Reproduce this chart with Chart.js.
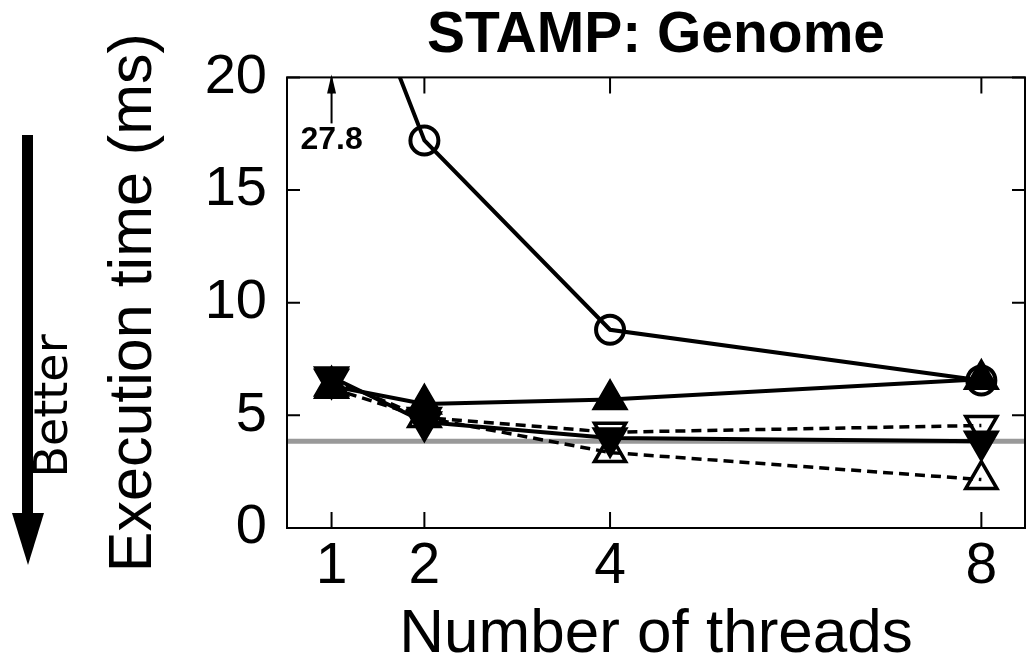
<!DOCTYPE html>
<html>
<head>
<meta charset="utf-8">
<script src="https://cdn.jsdelivr.net/npm/chart.js@4.4.1/dist/chart.umd.min.js"></script>
<style>
  html, body { margin: 0; padding: 0; background: #fff; }
</style>
</head>
<body>
<canvas id="genomeChart" width="1029" height="663"></canvas>
<script>
// values
const threads = [1, 2, 4, 8];
const xTicks = [1, 2, 4, 8];
const yTicks = [0, 5, 10, 15, 20];
const seqCircle = [27.8, 17.2, 8.8, 6.55];   // solid line, open circles
const solidUp = [6.3, 5.5, 5.7, 6.6];        // solid line, filled up-triangles
const solidDown = [6.7, 4.7, 4.0, 3.85];     // solid line, filled down-triangles
const dashedDown = [6.6, 4.9, 4.25, 4.55];   // dashed line, open down-triangles
const dashedUp = [6.2, 4.9, 3.35, 2.15];     // dashed line, open up-triangles
const baselineMs = 3.85;                     // grey reference line
const clippedValue = '27.8';

Chart.defaults.font.family = "'Liberation Sans', Arial, sans-serif";
Chart.defaults.color = '#000';

const toPoints = arr => threads.map((t, i) => ({ x: t, y: arr[i] }));

function series(arr, opts) {
    return Object.assign({
        data: toPoints(arr),
        borderColor: '#000',
        borderWidth: 4,
        tension: 0,
        pointBorderColor: '#000',
        pointBorderWidth: 3.5,
        pointRadius: 18,
        pointBackgroundColor: 'rgba(0,0,0,0)'
    }, opts);
}

// frame, inward ticks and grey baseline
const framePlugin = {
    id: 'frame',
    beforeDatasetsDraw(chart) {
        const { ctx, chartArea: a, scales: { x, y } } = chart;
        ctx.save();
        const yb = y.getPixelForValue(baselineMs);
        ctx.strokeStyle = '#999';
        ctx.lineWidth = 5;
        ctx.beginPath();
        ctx.moveTo(a.left, yb);
        ctx.lineTo(a.right, yb);
        ctx.stroke();

        ctx.strokeStyle = '#000';
        ctx.lineWidth = 2;
        ctx.strokeRect(a.left, a.top, a.right - a.left, a.bottom - a.top);
        ctx.beginPath();
        yTicks.forEach(v => {
            const p = y.getPixelForValue(v);
            ctx.moveTo(a.left, p); ctx.lineTo(a.left + 13, p);
            ctx.moveTo(a.right, p); ctx.lineTo(a.right - 13, p);
        });
        xTicks.forEach(v => {
            const p = x.getPixelForValue(v);
            ctx.moveTo(p, a.bottom); ctx.lineTo(p, a.bottom - 16);
            ctx.moveTo(p, a.top); ctx.lineTo(p, a.top + 16);
        });
        ctx.stroke();
        ctx.restore();
    },
    afterDraw(chart) {
        const { ctx, chartArea: a, scales: { x } } = chart;
        ctx.save();
        // arrow + label for the off-scale point
        const xp = x.getPixelForValue(threads[0]);
        ctx.strokeStyle = '#000';
        ctx.fillStyle = '#000';
        ctx.lineWidth = 2;
        ctx.beginPath();
        ctx.moveTo(xp, a.top + 46);
        ctx.lineTo(xp, a.top + 14);
        ctx.stroke();
        ctx.beginPath();
        ctx.moveTo(xp, a.top - 3);
        ctx.lineTo(xp - 4.5, a.top + 16);
        ctx.lineTo(xp + 4.5, a.top + 16);
        ctx.closePath();
        ctx.fill();
        ctx.font = "bold 32px 'Liberation Sans', Arial, sans-serif";
        ctx.textAlign = 'center';
        ctx.textBaseline = 'middle';
        ctx.fillText(clippedValue, xp, a.top + 63);

        // "Better" arrow on the far left
        ctx.fillRect(22, 135, 11, 380);
        ctx.beginPath();
        ctx.moveTo(12, 513);
        ctx.lineTo(44, 513);
        ctx.lineTo(28, 565);
        ctx.closePath();
        ctx.fill();
        ctx.translate(67, 406);
        ctx.rotate(-Math.PI / 2);
        ctx.font = "46px 'DejaVu Sans', sans-serif";
        ctx.textAlign = 'center';
        ctx.textBaseline = 'alphabetic';
        ctx.fillText('Better', 0, 0);
        ctx.restore();
    }
};

const ctx = document.getElementById('genomeChart');

new Chart(ctx, {
    type: 'line',
    data: {
        datasets: [
            series(solidUp, { pointStyle: 'triangle', pointBackgroundColor: '#000' }),
            series(solidDown, { pointStyle: 'triangle', pointRotation: 180, pointBackgroundColor: '#000' }),
            series(dashedDown, { pointStyle: 'triangle', pointRotation: 180, borderWidth: 3.5, borderDash: [10, 6] }),
            series(dashedUp, { pointStyle: 'triangle', borderWidth: 3.5, borderDash: [10, 6] }),
            series(seqCircle, { pointStyle: 'circle', pointRadius: 14, pointBorderWidth: 4 })
        ]
    },
    options: {
        responsive: false,
        animation: false,
        devicePixelRatio: 1,
        layout: { autoPadding: false, padding: { left: 80, right: 4, top: 0, bottom: 0 } },
        plugins: {
            legend: { display: false },
            tooltip: { enabled: false },
            title: {
                display: true,
                fullSize: false,
                text: 'STAMP: Genome',
                color: '#000',
                font: { size: 57, weight: 'bold' },
                padding: { top: 2, bottom: 7 }
            }
        },
        scales: {
            x: {
                type: 'linear',
                min: 0.52,
                max: 8.47,
                afterBuildTicks: s => { s.ticks = xTicks.map(v => ({ value: v })); },
                afterFit: s => { s.height = 135; },
                grid: { display: false, drawTicks: false },
                border: { display: false },
                ticks: { font: { size: 57 }, padding: 5, maxRotation: 0, autoSkip: false },
                title: {
                    display: true,
                    text: 'Number of threads',
                    font: { size: 62, lineHeight: 0.9 },
                    padding: { top: 0, bottom: 0 }
                }
            },
            y: {
                min: 0,
                max: 20,
                afterBuildTicks: s => { s.ticks = yTicks.map(v => ({ value: v })); },
                afterFit: s => { s.width = 207; },
                grid: { display: false, drawTicks: false },
                border: { display: false },
                ticks: { font: { size: 56 }, padding: 20 },
                title: {
                    display: true,
                    text: 'Execution time (ms)',
                    font: { size: 61 },
                    padding: { top: 18, bottom: 0 }
                }
            }
        }
    },
    plugins: [framePlugin]
});
</script>
</body>
</html>
